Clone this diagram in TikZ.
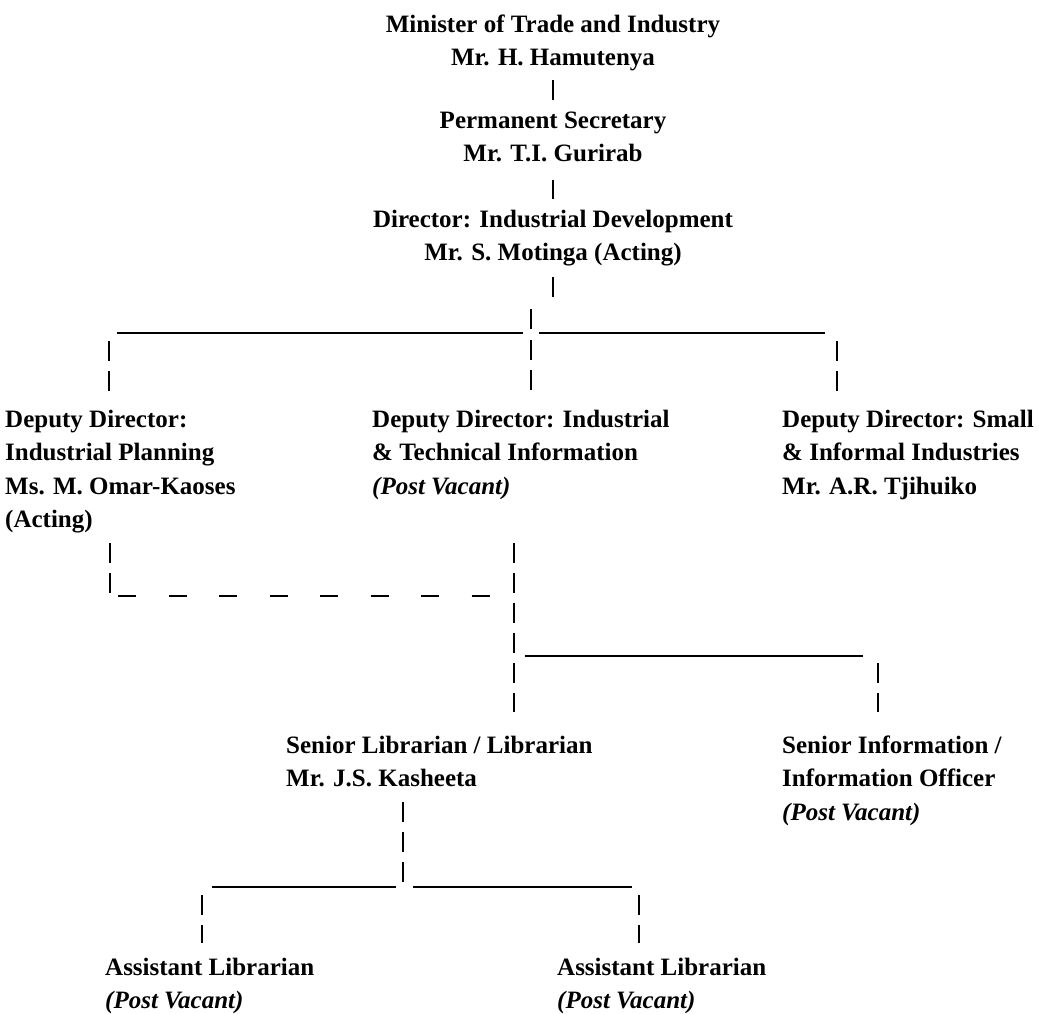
\documentclass[tikz,border=0pt]{standalone}
\usepackage{fontspec}
\setmainfont{Liberation Serif}
\usepackage{tikz}

\tikzset{
	post/.style={inner sep=0pt, font=\fontsize{25}{33.5}\selectfont\bfseries},
	mid/.style={post, anchor=base, align=center},
	side/.style={post, anchor=base west, align=left},
	vlink/.style={line width=2.4pt, dash pattern=on 20pt off 10pt},
	hbar/.style={line width=2pt},
	hdash/.style={line width=2.4pt, dash pattern=on 18pt off 32.5pt}
}

\newcommand{\vacant}{\textit{(Post Vacant)}}

\begin{document}
\begin{tikzpicture}[x=1pt, y=-1pt]
	\useasboundingbox (0,0) rectangle (1039,1013);

	\node[mid] (m1) at (553,65.5) {Minister of Trade and Industry\\Mr. H. Hamutenya};
	\node[mid] (p1) at (553,161.5) {Permanent Secretary\\Mr. T.I. Gurirab};
	\node[mid] (d1) at (553,260.5) {Director: Industrial Development\\Mr. S. Motinga (Acting)};

	\node[side] (dd1) at (5,527.5) {Deputy Director:\\Industrial Planning\\Ms. M. Omar-Kaoses\\(Acting)};
	\node[side] (dd2) at (372,494) {Deputy Director: Industrial\\\& Technical Information\\\vacant};
	\node[side] (dd3) at (782,494) {Deputy Director: Small\\\& Informal Industries\\Mr. A.R. Tjihuiko};

	\node[side] (lib) at (286,786.5) {Senior Librarian / Librarian\\Mr. J.S. Kasheeta};
	\node[side] (inf) at (782,820) {Senior Information /\\Information Officer\\\vacant};

	\node[side] (al1) at (105,1008.5) {Assistant Librarian\\\vacant};
	\node[side] (al2) at (557,1008.5) {Assistant Librarian\\\vacant};

	\coordinate (j0) at (109,333);
	\coordinate (j1) at (531,333);
	\coordinate (j2) at (837,333);
	\coordinate (k0) at (110,596);
	\coordinate (k1) at (514,596);
	\coordinate (k2) at (878,656);
	\coordinate (n0) at (202,887);
	\coordinate (n1) at (403,887);
	\coordinate (n2) at (639,887);

	\draw[vlink, shorten <=9pt, shorten >=11pt] (m1) -- (p1);
	\draw[vlink, shorten <=18pt, shorten >=10pt] (p1) -- (d1);
	\draw[vlink, shorten <=11pt] (d1.south) -- ++(0,31);
	\draw[vlink] ([yshift=24pt]j1) -- (j1);

	\draw[hbar] ([xshift=8pt]j0) -- ([xshift=-8pt]j1);
	\draw[hbar] ([xshift=8pt]j1) -- ([xshift=-12pt]j2);
	\draw[vlink, shorten <=8pt, shorten >=18pt] (j0) -- (j0 |- dd1.north);
	\draw[vlink, shorten <=7pt, shorten >=18pt] (j1) -- (j1 |- dd2.north);
	\draw[vlink, shorten <=8pt, shorten >=18pt] (j2) -- (j2 |- dd3.north);

	\draw[vlink, shorten <=10pt] (k0 |- dd1.south) -- (k0);
	\draw[hdash, shorten >=24pt] ([xshift=8pt]k0) -- (k1);
	\draw[vlink, shorten <=43pt, shorten >=23pt] (k1 |- dd2.south) -- (k1 |- lib.north);

	\draw[hbar] ([xshift=11pt]k1 |- k2) -- ([xshift=-15pt]k2);
	\draw[vlink, shorten <=7pt, shorten >=23pt] (k2) -- (k2 |- inf.north);

	\draw[vlink, shorten <=15pt] (n1 |- lib.south) -- (n1);
	\draw[hbar] ([xshift=10pt]n0) -- ([xshift=-7pt]n1);
	\draw[hbar] ([xshift=10pt]n1) -- ([xshift=-7pt]n2);
	\draw[vlink, shorten <=8pt, shorten >=14pt] (n0) -- (n0 |- al1.north);
	\draw[vlink, shorten <=8pt, shorten >=14pt] (n2) -- (n2 |- al2.north);
\end{tikzpicture}
\end{document}
